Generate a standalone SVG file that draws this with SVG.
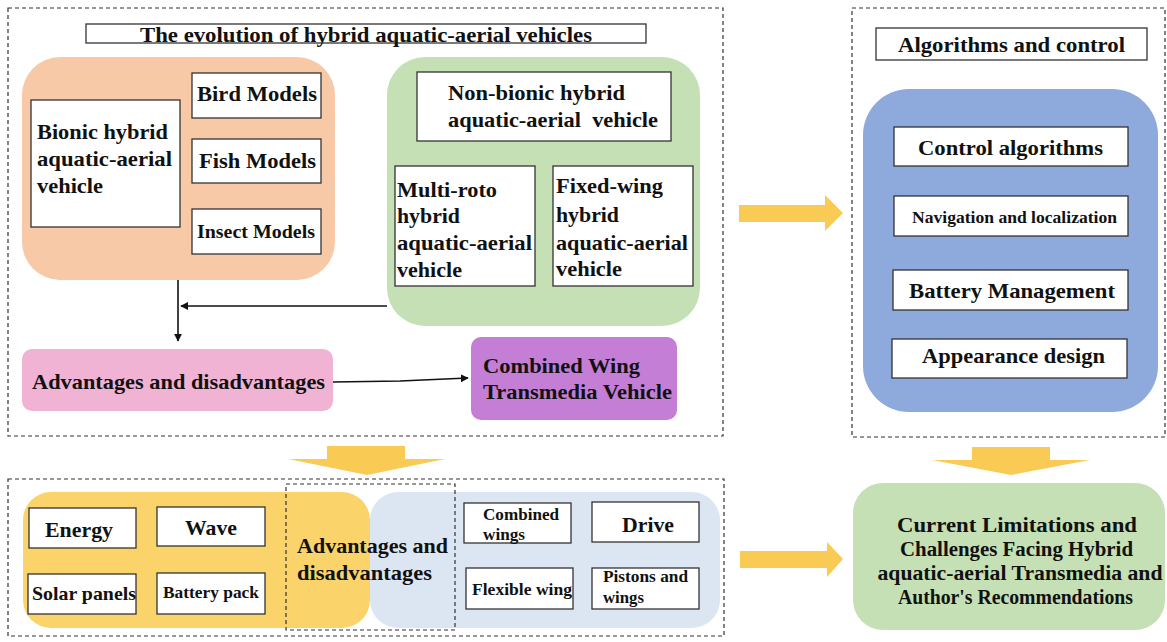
<svg xmlns="http://www.w3.org/2000/svg" width="1167" height="642" viewBox="0 0 1167 642">
<style>
  .frame { fill: none; stroke: #333; stroke-width: 1.2; stroke-dasharray: 4 3; }
  .box { fill: #fff; stroke: #333; stroke-width: 1.3; }
  .t { font-family: "Liberation Serif", "Times New Roman", serif; font-weight: bold; fill: #111; }
  .c { text-anchor: middle; }
  .conn { stroke: #111; stroke-width: 1.6; fill: none; }
  .yarrow { fill: #F9CB55; }
</style>
<defs>
  <marker id="ah" viewBox="0 0 10 10" refX="9" refY="5" markerWidth="5" markerHeight="5" orient="auto" markerUnits="strokeWidth">
    <path d="M0,0 L10,5 L0,10 z" fill="#111"/>
  </marker>
</defs>
<rect width="1167" height="642" fill="#fff"/>

<!-- Frames -->
<g id="frames">
  <rect class="frame" x="8" y="8" width="715" height="428"/>
  <rect class="frame" x="852" y="8" width="313" height="429"/>
  <rect class="frame" x="8" y="479" width="716" height="157"/>
</g>

<!-- Top-left section -->
<g id="title-evolution">
  <rect x="86" y="24" width="560" height="19" fill="#fff" stroke="#333" stroke-width="1.3"/>
  <text class="t c" x="366" y="42" font-size="21" textLength="452" lengthAdjust="spacingAndGlyphs">The evolution of hybrid aquatic-aerial vehicles</text>
</g>

<g id="bionic-group">
  <rect x="22" y="57" width="313" height="223" rx="38" fill="#F8C9A7"/>
  <g id="bionic">
    <rect class="box" x="31" y="100" width="149" height="127"/>
    <text class="t" x="37" y="139" font-size="21" textLength="131" lengthAdjust="spacingAndGlyphs">Bionic hybrid</text>
    <text class="t" x="37" y="166" font-size="21" textLength="135" lengthAdjust="spacingAndGlyphs">aquatic-aerial</text>
    <text class="t" x="37" y="193" font-size="21" textLength="66" lengthAdjust="spacingAndGlyphs">vehicle</text>
  </g>
  <g id="bird">
    <rect class="box" x="192" y="73" width="129" height="45"/>
    <text class="t" x="197" y="101" font-size="20" textLength="120" lengthAdjust="spacingAndGlyphs">Bird Models</text>
  </g>
  <g id="fish">
    <rect class="box" x="192" y="139" width="129" height="44"/>
    <text class="t" x="199" y="168" font-size="20" textLength="117" lengthAdjust="spacingAndGlyphs">Fish Models</text>
  </g>
  <g id="insect">
    <rect class="box" x="192" y="209" width="129" height="45"/>
    <text class="t" x="197" y="238" font-size="19" textLength="118" lengthAdjust="spacingAndGlyphs">Insect Models</text>
  </g>
</g>

<g id="nonbionic-group">
  <rect x="387" y="57" width="313" height="269" rx="38" fill="#C5E0B4"/>
  <g id="nonbionic">
    <rect class="box" x="417" y="72" width="254" height="69"/>
    <text class="t" x="448" y="100" font-size="21" textLength="177" lengthAdjust="spacingAndGlyphs">Non-bionic hybrid</text>
    <text class="t" x="448" y="127" font-size="21" textLength="210" lengthAdjust="spacingAndGlyphs" xml:space="preserve">aquatic-aerial  vehicle</text>
  </g>
  <g id="multiroto">
    <rect class="box" x="395" y="166" width="140" height="120"/>
    <text class="t" x="397" y="197" font-size="21" textLength="100" lengthAdjust="spacingAndGlyphs">Multi-roto</text>
    <text class="t" x="397" y="223" font-size="21" textLength="63" lengthAdjust="spacingAndGlyphs">hybrid</text>
    <text class="t" x="397" y="250" font-size="21" textLength="135" lengthAdjust="spacingAndGlyphs">aquatic-aerial</text>
    <text class="t" x="397" y="277" font-size="21" textLength="65" lengthAdjust="spacingAndGlyphs">vehicle</text>
  </g>
  <g id="fixedwing">
    <rect class="box" x="553" y="166" width="140" height="120"/>
    <text class="t" x="556" y="193" font-size="21" textLength="107" lengthAdjust="spacingAndGlyphs">Fixed-wing</text>
    <text class="t" x="556" y="222" font-size="21" textLength="63" lengthAdjust="spacingAndGlyphs">hybrid</text>
    <text class="t" x="556" y="250" font-size="21" textLength="132" lengthAdjust="spacingAndGlyphs">aquatic-aerial</text>
    <text class="t" x="556" y="276" font-size="21" textLength="66" lengthAdjust="spacingAndGlyphs">vehicle</text>
  </g>
</g>

<g id="adv-top">
  <rect x="22" y="349" width="311" height="62" rx="10" fill="#F0B3D4"/>
  <text class="t c" x="178.5" y="389" font-size="21" textLength="293" lengthAdjust="spacingAndGlyphs">Advantages and disadvantages</text>
</g>

<g id="combined-wing">
  <rect x="471" y="337" width="206" height="83" rx="10" fill="#C47ED6"/>
  <text class="t" x="483" y="373" font-size="22" textLength="157" lengthAdjust="spacingAndGlyphs">Combined Wing</text>
  <text class="t" x="483" y="399" font-size="22" textLength="189" lengthAdjust="spacingAndGlyphs">Transmedia Vehicle</text>
</g>

<!-- Top-right section -->
<g id="title-algorithms">
  <rect x="876" y="28" width="271" height="32" fill="#fff" stroke="#333" stroke-width="1.3"/>
  <text class="t c" x="1011.5" y="52" font-size="21" textLength="227" lengthAdjust="spacingAndGlyphs">Algorithms and control</text>
</g>
<g id="algorithms-group">
  <rect x="863" y="89" width="295" height="323" rx="46" fill="#8EA9DB"/>
  <g id="control">
    <rect class="box" x="894" y="127" width="234" height="39"/>
    <text class="t c" x="1010.5" y="155" font-size="21" textLength="185" lengthAdjust="spacingAndGlyphs">Control algorithms</text>
  </g>
  <g id="navigation">
    <rect class="box" x="894" y="196" width="234" height="40"/>
    <text class="t c" x="1014.5" y="223" font-size="16.5" textLength="205" lengthAdjust="spacingAndGlyphs">Navigation and localization</text>
  </g>
  <g id="battery-mgmt">
    <rect class="box" x="893" y="270" width="235" height="40"/>
    <text class="t c" x="1012" y="298" font-size="21" textLength="206" lengthAdjust="spacingAndGlyphs">Battery Management</text>
  </g>
  <g id="appearance">
    <rect class="box" x="892" y="339" width="235" height="39"/>
    <text class="t c" x="1013.5" y="363" font-size="21" textLength="183" lengthAdjust="spacingAndGlyphs">Appearance design</text>
  </g>
</g>

<!-- Bottom-left section -->
<g id="bottom-group">
  <rect x="370" y="492" width="350" height="136" rx="28" fill="#DCE6F2"/>
  <rect x="23" y="492" width="347" height="136" rx="28" fill="#FAD46A"/>
  <g id="energy">
    <rect class="box" x="29" y="508" width="107" height="40"/>
    <text class="t c" x="79" y="537" font-size="22" textLength="68" lengthAdjust="spacingAndGlyphs">Energy</text>
  </g>
  <g id="wave">
    <rect class="box" x="157" y="507" width="108" height="39"/>
    <text class="t c" x="211" y="535" font-size="22" textLength="52" lengthAdjust="spacingAndGlyphs">Wave</text>
  </g>
  <g id="solar">
    <rect class="box" x="28" y="574" width="108" height="40"/>
    <text class="t" x="32" y="600" font-size="19" textLength="104" lengthAdjust="spacingAndGlyphs">Solar panels</text>
  </g>
  <g id="battery-pack">
    <rect class="box" x="157" y="573" width="108" height="41"/>
    <text class="t" x="163" y="598" font-size="17" textLength="96" lengthAdjust="spacingAndGlyphs">Battery pack</text>
  </g>
  <g id="adv-bottom">
    <rect class="frame" x="286" y="484" width="169" height="146"/>
    <text class="t" x="297" y="553" font-size="21" textLength="151" lengthAdjust="spacingAndGlyphs">Advantages and</text>
    <text class="t" x="297" y="580" font-size="21" textLength="135" lengthAdjust="spacingAndGlyphs">disadvantages</text>
  </g>
  <g id="combined-wings">
    <rect class="box" x="464" y="503" width="107" height="40"/>
    <text class="t" x="483" y="520" font-size="17" textLength="76" lengthAdjust="spacingAndGlyphs">Combined</text>
    <text class="t" x="483" y="540" font-size="17" textLength="42" lengthAdjust="spacingAndGlyphs">wings</text>
  </g>
  <g id="drive">
    <rect class="box" x="592" y="502" width="107" height="40"/>
    <text class="t" x="622" y="532" font-size="21" textLength="52" lengthAdjust="spacingAndGlyphs">Drive</text>
  </g>
  <g id="flexible">
    <rect class="box" x="466" y="568" width="107" height="41"/>
    <text class="t" x="472" y="595" font-size="17.5" textLength="100" lengthAdjust="spacingAndGlyphs">Flexible wing</text>
  </g>
  <g id="pistons">
    <rect class="box" x="592" y="568" width="107" height="41"/>
    <text class="t" x="603" y="582" font-size="17" textLength="85" lengthAdjust="spacingAndGlyphs">Pistons and</text>
    <text class="t" x="603" y="603" font-size="17" textLength="41" lengthAdjust="spacingAndGlyphs">wings</text>
  </g>
</g>

<!-- Bottom-right -->
<g id="limitations">
  <rect x="853" y="483" width="312" height="147" rx="30" fill="#C5E0B4"/>
  <text class="t c" x="1017" y="532" font-size="20" textLength="240" lengthAdjust="spacingAndGlyphs">Current Limitations and</text>
  <text class="t c" x="1016.5" y="556" font-size="20" textLength="233" lengthAdjust="spacingAndGlyphs">Challenges Facing Hybrid</text>
  <text class="t c" x="1020" y="580" font-size="20" textLength="285" lengthAdjust="spacingAndGlyphs">aquatic-aerial Transmedia and</text>
  <text class="t c" x="1015.5" y="604" font-size="20" textLength="235" lengthAdjust="spacingAndGlyphs">Author's Recommendations</text>
</g>

<!-- Connectors -->
<g id="connectors">
  <line class="conn" x1="178" y1="280" x2="178" y2="341" marker-end="url(#ah)"/>
  <line class="conn" x1="387" y1="306" x2="181" y2="306" marker-end="url(#ah)"/>
  <path class="conn" d="M333,382 L400,381 L468,378" marker-end="url(#ah)"/>
  <path class="yarrow" d="M739,205 L825,205 L825,195 L843,213 L825,231 L825,222 L739,222 z"/>
  <path class="yarrow" d="M740,551 L827,551 L827,542 L843,559 L827,577 L827,568 L740,568 z"/>
  <path class="yarrow" d="M327,446 L405,446 L405,459 L445,459 L367,475 L288,459 L327,459 z"/>
  <path class="yarrow" d="M972,447 L1050,447 L1050,460 L1090,460 L1011,475 L932,460 L972,460 z"/>
</g>
</svg>
